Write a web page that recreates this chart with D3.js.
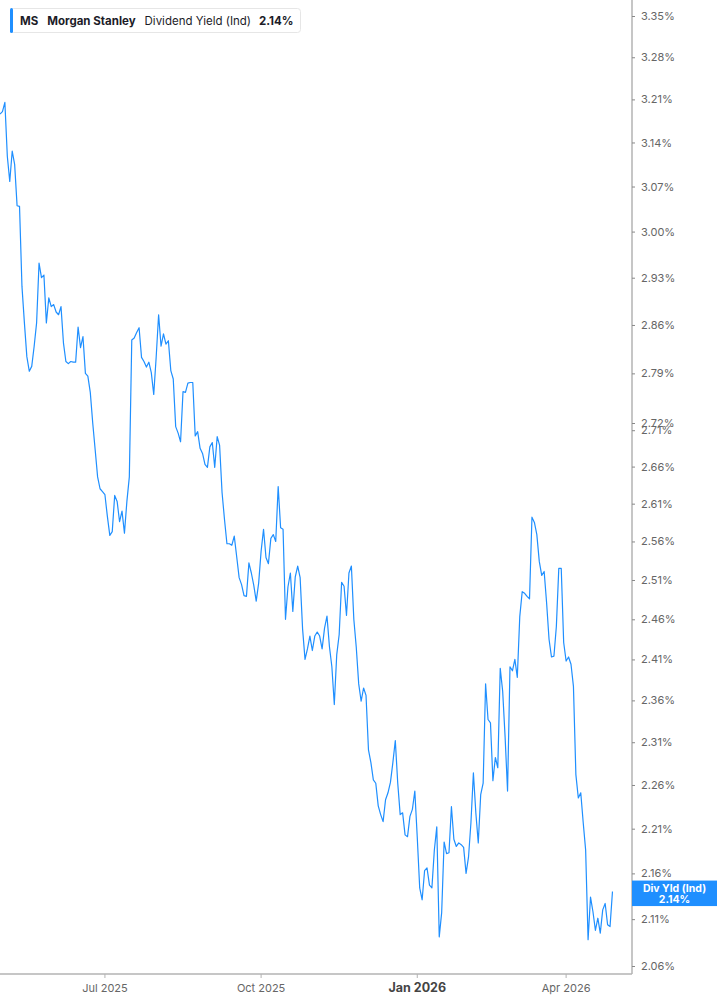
<!DOCTYPE html>
<html>
<head>
<meta charset="utf-8">
<script src="https://cdn.jsdelivr.net/npm/d3@7"></script>
<style>
  body { margin: 0; background: #fff; font-family: Inter, "Noto Sans", sans-serif; }
</style>
</head>
<body>
<script>
// Dividend yield (%), one value per trading day
var values = [
  3.186, 3.19, 3.205, 3.118, 3.078, 3.126, 3.105, 3.04, 3.039,
  2.917, 2.863, 2.814, 2.793, 2.80, 2.829, 2.863, 2.952, 2.93, 2.934,
  2.863, 2.900, 2.887, 2.890, 2.879, 2.875, 2.887, 2.834, 2.807, 2.804,
  2.807, 2.806, 2.806, 2.857, 2.827, 2.843, 2.79, 2.786, 2.763, 2.72,
  2.683, 2.646, 2.63, 2.626, 2.622, 2.593, 2.568, 2.573, 2.621, 2.613,
  2.586, 2.60, 2.571, 2.613, 2.646, 2.838, 2.841, 2.849, 2.856, 2.813,
  2.807, 2.799, 2.806, 2.791, 2.76, 2.813, 2.875,
  2.829, 2.847, 2.832, 2.837, 2.794, 2.782, 2.715, 2.706, 2.694, 2.764,
  2.763, 2.776, 2.777, 2.777, 2.702, 2.708, 2.685, 2.678, 2.663, 2.659,
  2.687, 2.693, 2.659, 2.701, 2.689, 2.625, 2.589, 2.557, 2.557, 2.555,
  2.567, 2.540, 2.513, 2.504, 2.49, 2.489, 2.532, 2.519, 2.503, 2.483,
  2.506, 2.547, 2.576, 2.539, 2.531, 2.564, 2.569, 2.56, 2.633, 2.578,
  2.576, 2.46, 2.501, 2.519, 2.47, 2.514, 2.528, 2.513, 2.448,
  2.41, 2.423, 2.439, 2.421, 2.439, 2.444, 2.439, 2.423, 2.449, 2.464,
  2.426, 2.401, 2.355, 2.416, 2.441, 2.507, 2.502, 2.465, 2.519, 2.528,
  2.46, 2.425, 2.380, 2.359, 2.375, 2.366, 2.301, 2.286, 2.266, 2.262,
  2.236, 2.226, 2.218, 2.243, 2.251, 2.263, 2.286, 2.312, 2.262, 2.226,
  2.228, 2.203, 2.201, 2.224, 2.232, 2.253, 2.20, 2.144, 2.131, 2.163,
  2.166, 2.147, 2.144, 2.186, 2.212, 2.091,
  2.117, 2.195, 2.182, 2.183, 2.235, 2.198, 2.19, 2.194, 2.192, 2.189,
  2.16, 2.178, 2.217, 2.274, 2.228, 2.194, 2.249, 2.262, 2.38, 2.337,
  2.333, 2.265, 2.292, 2.28, 2.399, 2.371, 2.316, 2.253, 2.401, 2.396,
  2.41, 2.388, 2.463, 2.495, 2.493, 2.489, 2.486, 2.592, 2.585, 2.569,
  2.534, 2.516, 2.521, 2.481, 2.435, 2.413, 2.414, 2.451, 2.525, 2.525,
  2.431, 2.408, 2.413, 2.404, 2.377, 2.272, 2.245, 2.251, 2.217, 2.186,
  2.088, 2.134, 2.118, 2.098, 2.111, 2.095, 2.12, 2.127, 2.104, 2.102,
  2.14
];

// trading calendar
var startDate = "2025-04-29";
var holidays = ["2025-05-26", "2025-06-19", "2025-07-04", "2025-09-01", "2025-11-27",
  "2025-12-25", "2026-01-01", "2026-01-19", "2026-02-16", "2026-04-03"];

var yTicks = [3.35, 3.28, 3.21, 3.14, 3.07, 3.00, 2.93, 2.86, 2.79, 2.72, 2.71, 2.66,
  2.61, 2.56, 2.51, 2.46, 2.41, 2.36, 2.31, 2.26, 2.21, 2.16, 2.11, 2.06];
var xTickDates = ["2025-07-01", "2025-10-01", "2026-01-02", "2026-04-01"];
var xTickLabels = ["Jul 2025", "Oct 2025", "Jan 2026", "Apr 2026"];

var ticker = "MS";
var company = "Morgan Stanley";
var metric = "Dividend Yield (Ind)";
var badgeLabel = "Div Yld (Ind)";

var svgWidth = 717;
var svgHeight = 1005;
var chartWidth = 632;
var chartHeight = 974;
var lineColor = "#1f8fff";
var axisColor = "#b3b3b3";

// build the list of trading days
var parse = d3.timeParse("%Y-%m-%d");
var fmt = d3.timeFormat("%Y-%m-%d");
var dates = [];
var day = parse(startDate);
while (dates.length < values.length) {
  var wd = day.getDay();
  if (wd !== 0 && wd !== 6 && holidays.indexOf(fmt(day)) < 0) dates.push(fmt(day));
  day = d3.timeDay.offset(day, 1);
}

var svg = d3.select("body")
  .append("svg")
  .attr("width", svgWidth)
  .attr("height", svgHeight)
  .style("display", "block");

var xScale = d3.scaleLinear()
  .domain([0, values.length - 1 + 8])
  .range([0, chartWidth]);

var yScale = d3.scaleLog()
  .domain([2.06, 3.35])
  .range([966, 16]);

// the line
var line = d3.line()
  .x((d, i) => xScale(i))
  .y(d => yScale(d));

svg.append("path")
  .datum(values)
  .attr("fill", "none")
  .attr("stroke", lineColor)
  .attr("stroke-width", 1.2)
  .attr("stroke-linejoin", "round")
  .attr("d", line);

// axis frame
svg.append("line")
  .attr("x1", chartWidth).attr("x2", chartWidth)
  .attr("y1", 0).attr("y2", chartHeight)
  .attr("stroke", axisColor).attr("stroke-width", 1.5);
svg.append("line")
  .attr("x1", 0).attr("x2", chartWidth)
  .attr("y1", chartHeight).attr("y2", chartHeight)
  .attr("stroke", axisColor).attr("stroke-width", 1.5);

// right axis
var rightAxis = d3.axisRight(yScale)
  .tickValues(yTicks)
  .tickFormat(d => d.toFixed(2) + "%")
  .tickSize(3)
  .tickPadding(6);

var yAxisG = svg.append("g")
  .attr("transform", `translate(${chartWidth}, 0)`)
  .call(rightAxis);
yAxisG.select(".domain").remove();
yAxisG.selectAll("line").attr("stroke", "#888");
yAxisG.selectAll("text")
  .attr("fill", "#666")
  .style("font-family", "Inter, sans-serif")
  .style("font-size", "11px");

// bottom axis
var xTicks = svg.append("g").selectAll("g")
  .data(xTickDates)
  .enter()
  .append("g")
  .attr("transform", d => `translate(${xScale(dates.indexOf(d))}, ${chartHeight})`);

xTicks.append("line")
  .attr("y1", 0).attr("y2", 4)
  .attr("stroke", axisColor);

xTicks.append("text")
  .attr("y", 18)
  .attr("text-anchor", "middle")
  .attr("fill", (d, i) => xTickLabels[i] === "Jan 2026" ? "#444" : "#666")
  .style("font-size", (d, i) => xTickLabels[i] === "Jan 2026" ? "12.5px" : "11px")
  .style("font-weight", (d, i) => xTickLabels[i] === "Jan 2026" ? 700 : 400)
  .text((d, i) => xTickLabels[i]);

// last value badge
var lastValue = values[values.length - 1];
var badgeY = yScale(lastValue);
svg.append("rect")
  .attr("x", chartWidth)
  .attr("y", badgeY - 11)
  .attr("width", svgWidth - chartWidth)
  .attr("height", 25.5)
  .attr("fill", lineColor);
svg.append("text")
  .attr("x", (chartWidth + svgWidth) / 2)
  .attr("y", badgeY + 0.3)
  .attr("text-anchor", "middle")
  .attr("fill", "#fff")
  .style("font-size", "10.5px")
  .style("font-weight", 700)
  .text(badgeLabel);
svg.append("text")
  .attr("x", (chartWidth + svgWidth) / 2)
  .attr("y", badgeY + 11.8)
  .attr("text-anchor", "middle")
  .attr("fill", "#fff")
  .style("font-size", "10.5px")
  .style("font-weight", 700)
  .text(lastValue.toFixed(2) + "%");

// legend box
var legend = svg.append("g");
legend.append("rect")
  .attr("x", 10.5).attr("y", 8.5)
  .attr("width", 290).attr("height", 24)
  .attr("rx", 3)
  .attr("fill", "#fff")
  .attr("stroke", "#e6e6e6");
legend.append("rect")
  .attr("x", 10).attr("y", 8)
  .attr("width", 3).attr("height", 25)
  .attr("rx", 1.5)
  .attr("fill", lineColor);

var legendText = legend.append("text")
  .attr("x", 20)
  .attr("y", 25)
  .attr("fill", "#1c1c28")
  .style("font-size", "11.5px");
legendText.append("tspan").style("font-weight", 700).text(ticker);
legendText.append("tspan").attr("dx", 9).style("font-weight", 700).text(company);
legendText.append("tspan").attr("dx", 9).style("font-weight", 400).text(metric);
legendText.append("tspan").attr("dx", 8).style("font-weight", 700).text(lastValue.toFixed(2) + "%");
</script>
</body>
</html>
